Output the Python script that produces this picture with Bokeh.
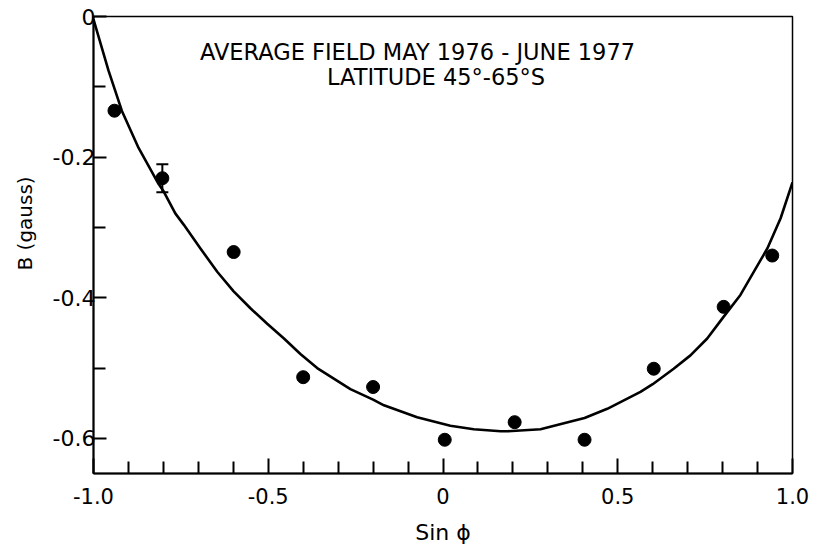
from bokeh.plotting import figure
from bokeh.models import Range1d, FixedTicker, Label, Whisker, ColumnDataSource, TeeHead, Title
from bokeh.embed import file_html
from bokeh.resources import INLINE

# ---- data ----
sin_phi = [-0.94, -0.803, -0.599, -0.40, -0.20, 0.005, 0.205, 0.405, 0.603, 0.803, 0.942]
b_field = [-0.134, -0.230, -0.335, -0.513, -0.527, -0.602, -0.577, -0.602, -0.501, -0.413, -0.340]

err_x = [-0.803]
err_low = [-0.250]
err_high = [-0.210]

# fitted curve, points
fit_x = [-1.0, -0.957, -0.919, -0.871, -0.814, -0.799, -0.766, -0.742, -0.694, -0.646,
         -0.599, -0.551, -0.503, -0.455, -0.408, -0.36, -0.265, -0.2, -0.169, -0.074,
         0.021, 0.088, 0.165, 0.184, 0.279, 0.374, 0.405, 0.47, 0.565, 0.6,
         0.660, 0.708, 0.756, 0.8, 0.851, 0.928, 0.966, 1.0]
fit_y = [-0.004, -0.077, -0.134, -0.187, -0.238, -0.249, -0.280, -0.296, -0.330, -0.363,
         -0.391, -0.415, -0.437, -0.458, -0.480, -0.500, -0.530, -0.545, -0.553, -0.570,
         -0.582, -0.587, -0.590, -0.590, -0.587, -0.575, -0.571, -0.558, -0.534, -0.523,
         -0.501, -0.482, -0.458, -0.429, -0.396, -0.330, -0.287, -0.236]

x_major = [-1.0, -0.5, 0.0, 0.5, 1.0]
x_major_labels = ["-1.0", "-0.5", "0", "0.5", "1.0"]
x_minor = [-0.9, -0.8, -0.7, -0.6, -0.4, -0.3, -0.2, -0.1, 0.1, 0.2, 0.3, 0.4, 0.6, 0.7, 0.8, 0.9]
y_major = [0.0, -0.2, -0.4, -0.6]
y_major_labels = ["0", "-0.2", "-0.4", "-0.6"]
y_minor = [-0.1, -0.3, -0.5]

title_line1 = "AVERAGE FIELD MAY 1976 - JUNE 1977"
title_line2 = "LATITUDE 45°-65°S"
x_label = "Sin ϕ"
y_label = "B (gauss)"

FONT = "DejaVu Sans"

p = figure(width=812, height=552, x_range=Range1d(-1.0, 1.0), y_range=Range1d(-0.65, 0.0),
           output_backend="svg", toolbar_location=None,
           min_border_left=93, min_border_right=20, min_border_top=16, min_border_bottom=79)

p.xgrid.visible = False
p.ygrid.visible = False
p.outline_line_color = "black"
p.outline_line_width = 1.5
p.outline_line_alpha = 1.0
p.background_fill_color = "white"
p.border_fill_color = "white"

# x axis
xa = p.xaxis[0]
xa.ticker = FixedTicker(ticks=x_major, minor_ticks=x_minor)
xa.major_label_overrides = {v: l for v, l in zip(x_major, x_major_labels)}
xa.major_tick_in = 15
xa.major_tick_out = 0
xa.minor_tick_in = 12
xa.minor_tick_out = 0
xa.axis_line_width = 2
xa.major_tick_line_width = 2
xa.minor_tick_line_width = 2
xa.axis_line_color = "black"
xa.major_tick_line_color = "black"
xa.minor_tick_line_color = "black"
xa.major_label_text_font = FONT
xa.major_label_text_font_size = "21px"
xa.major_label_text_color = "black"
xa.major_label_standoff = 14
xa.axis_label = x_label
xa.axis_label_text_font = FONT
xa.axis_label_text_font_size = "22px"
xa.axis_label_text_font_style = "normal"
xa.axis_label_text_color = "black"
xa.axis_label_standoff = 13

# y axis
ya = p.yaxis[0]
ya.ticker = FixedTicker(ticks=y_major, minor_ticks=y_minor)
ya.major_label_overrides = {v: l for v, l in zip(y_major, y_major_labels)}
ya.major_tick_in = 13
ya.major_tick_out = 0
ya.minor_tick_in = 12
ya.minor_tick_out = 0
ya.axis_line_width = 2
ya.major_tick_line_width = 2
ya.minor_tick_line_width = 2
ya.axis_line_color = "black"
ya.major_tick_line_color = "black"
ya.minor_tick_line_color = "black"
ya.major_label_text_font = FONT
ya.major_label_text_font_size = "22px"
ya.major_label_text_color = "black"
ya.major_label_standoff = -2

# y label as a side title (placed off-centre like the reference)
p.add_layout(Title(text=y_label, align="left", offset=203, vertical_align="top", standoff=22,
                   text_font=FONT, text_font_size="20px", text_font_style="normal",
                   text_color="black"), "left")

# fitted curve
p.line(fit_x, fit_y, line_color="black", line_width=2.6, line_join="round")

# data points
p.scatter(sin_phi, b_field, size=13, fill_color="black", line_color="black")

# error bar
src = ColumnDataSource(dict(x=err_x, lower=err_low, upper=err_high))
p.add_layout(Whisker(source=src, base="x", lower="lower", upper="upper", dimension="height",
                     line_color="black", line_width=2,
                     upper_head=TeeHead(size=12, line_width=2, line_color="black"),
                     lower_head=TeeHead(size=12, line_width=2, line_color="black")))

# title text inside the plot
p.add_layout(Label(x=-0.073, y=-0.051, text=title_line1, text_align="center",
                   text_baseline="alphabetic", text_font=FONT, text_font_size="22.5px",
                   text_color="black"))
p.add_layout(Label(x=-0.02, y=-0.086, text=title_line2, text_align="center",
                   text_baseline="alphabetic", text_font=FONT, text_font_size="22.5px",
                   text_color="black"))

open("out.html", "w").write(file_html(p, INLINE))
